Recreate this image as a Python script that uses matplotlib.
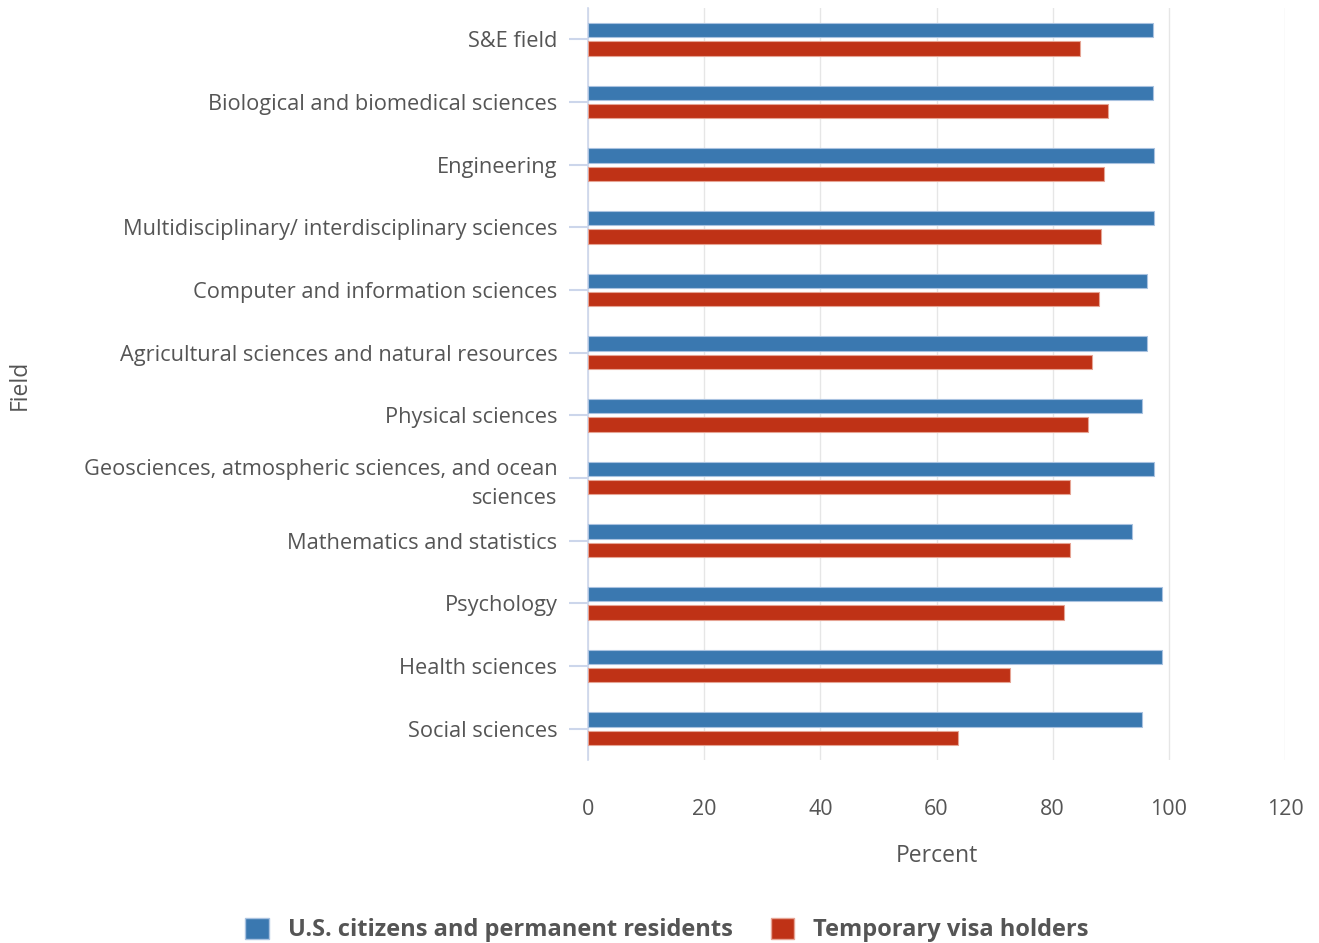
import numpy as np
import matplotlib.pyplot as plt
from matplotlib.patches import Patch

plt.rcParams['font.family'] = ['Open Sans', 'DejaVu Sans']

fields = [
    'S&E field',
    'Biological and biomedical sciences',
    'Engineering',
    'Multidisciplinary/ interdisciplinary sciences',
    'Computer and information sciences',
    'Agricultural sciences and natural resources',
    'Physical sciences',
    'Geosciences, atmospheric sciences, and ocean\nsciences',
    'Mathematics and statistics',
    'Psychology',
    'Health sciences',
    'Social sciences',
]
us_citizens = [97.2, 97.2, 97.5, 97.4, 96.3, 96.3, 95.3, 97.4, 93.6, 98.9, 98.9, 95.4]
temp_visa = [84.7, 89.6, 88.9, 88.4, 88.0, 86.7, 86.0, 82.9, 82.9, 82.0, 72.7, 63.7]
x_ticks = [0, 20, 40, 60, 80, 100, 120]

blue = '#3a78b0'
red = '#bf3216'
text_col = '#555555'

fig = plt.figure(figsize=(13.19, 9.43), dpi=100)
ax = fig.add_axes([588 / 1319, 1 - 760 / 943, 697 / 1319, 752 / 943])

y = np.arange(len(fields))
h = 0.23
ax.barh(y - 0.145, us_citizens, height=h, color=blue, edgecolor='#a9c2e0', linewidth=0.8, zorder=3)
ax.barh(y + 0.145, temp_visa, height=h, color=red, edgecolor='#e6a494', linewidth=0.8, zorder=3)

ax.set_xlim(0, 120)
ax.set_ylim(11.5, -0.5)
ax.set_xticks(x_ticks)
ax.set_yticks(y)
ax.set_yticklabels(fields, fontsize=15.7, color=text_col, linespacing=1.45)
ax.tick_params(axis='x', length=0, pad=28, labelsize=15.5, labelcolor=text_col)
ax.tick_params(axis='y', length=14, width=1.5, color='#ccd6eb', pad=8)

ax.grid(axis='x', color='#e6e6e6', linewidth=1, zorder=0)
for s in ['top', 'right', 'bottom']:
    ax.spines[s].set_visible(False)
ax.spines['left'].set_color('#ccd6eb')
ax.spines['left'].set_linewidth(1.2)

ax.set_xlabel('Percent', fontsize=16.5, color=text_col, labelpad=17)
fig.text(20 / 1319, 1 - 385 / 943, 'Field', rotation=90, fontsize=16.5,
         color=text_col, ha='center', va='center')

handles = [Patch(facecolor=blue, edgecolor='#a9c2e0'),
           Patch(facecolor=red, edgecolor='#e6a494')]
leg = fig.legend(handles, ['U.S. citizens and permanent residents', 'Temporary visa holders'],
                 loc='center', bbox_to_anchor=(667 / 1319, 1 - 930 / 943), ncol=2,
                 frameon=False, handlelength=1.0, handleheight=1.0, handletextpad=0.8,
                 columnspacing=1.6, prop={'size': 17, 'weight': 'bold'})
for t in leg.get_texts():
    t.set_color(text_col)

fig.savefig('out.png', dpi=100)
